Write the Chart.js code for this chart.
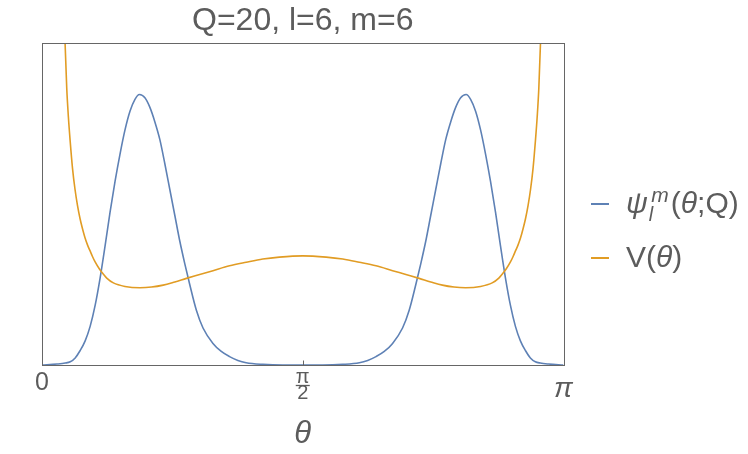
<!DOCTYPE html>
<html><head><meta charset="utf-8">
<script src="https://cdn.jsdelivr.net/npm/chart.js@4.4.1/dist/chart.umd.min.js"></script>
<style>
html,body{margin:0;padding:0;background:#fff;}
#wrap{position:relative;width:748px;height:454px;overflow:hidden;}
canvas{position:absolute;left:0;top:0;}
.leg{position:absolute;left:626px;height:36px;line-height:36px;font-family:"Liberation Sans",Arial,sans-serif;font-size:30px;color:#5c5c5c;white-space:nowrap;}
.sw{position:absolute;left:591px;width:18px;height:1.6px;}
.it{font-style:italic;}
.sb{position:relative;top:8px;font-size:20px;font-style:italic;margin-left:1px;margin-right:-2px;}
.sp{position:relative;top:-11px;font-size:21px;font-style:italic;margin-right:2px;}
</style></head>
<body><div id="wrap"><canvas id="c" width="748" height="454"></canvas>
<div class="sw" style="top:203px;background:#5E81B5"></div>
<div class="leg" style="top:185px"><span class="it">ψ</span><span class="sb">l</span><span class="sp">m</span>(<span class="it">θ</span>;Q)</div>
<div class="sw" style="top:257px;background:#E19C24"></div>
<div class="leg" style="top:239px">V(<span class="it">θ</span>)</div>
</div>
<script>
// ψ_l^m(θ;Q)
const psiTheta = [0,0.09,0.14,0.17,0.20,0.23,0.26,0.29,0.32,0.35,0.38,0.41,0.44,0.47,0.50,0.53,0.56,0.587,0.62,0.65,0.68,0.71,0.74,0.77,0.80,0.83,0.86,0.89,0.93,0.97,1.03,1.08,1.13,1.18,1.23,1.33,1.45,1.571,
  1.692,1.812,1.912,1.962,2.012,2.062,2.112,2.172,2.212,2.252,2.282,2.312,2.342,2.372,2.402,2.432,2.462,2.492,2.522,2.555,2.582,2.612,2.642,2.672,2.702,2.732,2.762,2.792,2.822,2.852,2.882,2.912,2.942,2.972,3.002,3.052,3.1416];
const psiValues = [0,0.3,0.6,1.0,2.2,4.5,7.5,12,18.5,27,37,47.5,57,65.5,73,78.8,82.5,84,83,80,75.5,70,62.5,54.5,46.5,38.5,31.5,25,17,11.5,6.7,4.2,2.6,1.4,0.7,0.2,0,0,
  0,0.2,0.7,1.4,2.6,4.2,6.7,11.5,17,25,31.5,38.5,46.5,54.5,62.5,70,75.5,80,83,84,82.5,78.8,73,65.5,57,47.5,37,27,18.5,12,7.5,4.5,2.2,1.0,0.6,0.3,0];
// V(θ)
const vTheta = [0.10,0.13,0.139,0.149,0.159,0.169,0.184,0.199,0.214,0.229,0.244,0.259,0.274,0.289,0.304,0.32,0.346,0.37,0.39,0.43,0.50,0.59,0.66,0.73,0.80,0.87,0.95,1.03,1.13,1.23,1.33,1.43,1.571,
  1.712,1.812,1.912,2.012,2.112,2.192,2.272,2.342,2.412,2.482,2.552,2.642,2.712,2.752,2.772,2.796,2.822,2.838,2.853,2.868,2.883,2.898,2.913,2.928,2.943,2.958,2.973,2.983,2.993,3.003,3.012,3.042];
const vValues = [200,116,100,86,77,70,61,54.5,49.5,45.5,42.3,39.5,37.3,35.5,33.7,32,29.8,28.2,27,25.5,24.4,24.0,24.2,24.8,25.8,26.9,28.1,29.3,30.8,31.9,32.9,33.5,33.9,
  33.5,32.9,31.9,30.8,29.3,28.1,26.9,25.8,24.8,24.2,24.0,24.4,25.5,27,28.2,29.8,32,33.7,35.5,37.3,39.5,42.3,45.5,49.5,54.5,61,70,77,86,100,116,200];
const tickValues = [0, Math.PI/2, Math.PI];
const tickLabels = ['0', ['π','2'], 'π'];
const seriesNames = ['ψ_l^m(θ;Q)', 'V(θ)'];
const titleText = 'Q=20, l=6, m=6';
const axisTitle = 'θ';

const FONT = '"Liberation Sans", Arial, sans-serif';
const TXT = '#5c5c5c';
const FRAME = '#666666';

const framePlugin = {
  id: 'frame',
  afterDraw(chart) {
    const {ctx, chartArea: a, scales: {x}} = chart;
    ctx.save();
    ctx.strokeStyle = FRAME;
    ctx.lineWidth = 1;
    ctx.strokeRect(Math.round(a.left) + 0.5, Math.round(a.top) + 0.5, Math.round(a.right - a.left), Math.round(a.bottom - a.top));
    // inward tick marks
    tickValues.forEach(v => {
      const px = Math.round(x.getPixelForValue(v)) + 0.5;
      ctx.beginPath();
      ctx.moveTo(px, a.bottom);
      ctx.lineTo(px, a.bottom - 4.5);
      ctx.stroke();
    });
    // fraction bar for π/2
    const cx = x.getPixelForValue(Math.PI/2);
    ctx.strokeStyle = TXT;
    ctx.lineWidth = 1.3;
    ctx.beginPath();
    ctx.moveTo(cx - 7, 385.5);
    ctx.lineTo(cx + 7, 385.5);
    ctx.stroke();
    ctx.restore();
  }
};

new Chart(document.getElementById('c'), {
  type: 'line',
  data: {
    datasets: [
      {label: seriesNames[0], data: psiTheta.map((t,i)=>({x:t,y:psiValues[i]})), borderColor:'#5E81B5', borderWidth:1.6, pointRadius:0, cubicInterpolationMode:'monotone', order:1},
      {label: seriesNames[1], data: vTheta.map((t,i)=>({x:t,y:vValues[i]})), borderColor:'#E19C24', borderWidth:1.6, pointRadius:0, cubicInterpolationMode:'monotone', order:0}
    ]
  },
  options: {
    responsive: false,
    animation: false,
    devicePixelRatio: 1,
    layout: {padding: {left: 42, right: 184.5, top: 0, bottom: 0}},
    plugins: {
      legend: {display: false},
      tooltip: {enabled: false},
      title: {display: true, text: titleText, color: TXT, font: {family: FONT, size: 32, weight: 'normal', lineHeight: 1.2}, padding: {top: 2.3, bottom: 2.3}}
    },
    scales: {
      x: {
        type: 'linear', min: 0, max: Math.PI,
        afterBuildTicks: s => { s.ticks = tickValues.map(v => ({value: v})); },
        afterFit: s => { s.height = 89; },
        grid: {display: false, drawTicks: false},
        border: {display: false},
        ticks: {
          autoSkip: false, maxRotation: 0, padding: 4.3, color: TXT,
          callback: (v, i) => tickLabels[i],
          font: (ctx) => ctx.index === 1 ? {family: FONT, size: 20, lineHeight: 0.8}
                        : ctx.index === 2 ? {family: FONT, size: 28, style: 'italic', lineHeight: 1.4}
                        : {family: FONT, size: 25, lineHeight: 1.1}
        },
        title: {display: true, text: axisTitle, color: TXT, font: {family: FONT, size: 31, style: 'italic', lineHeight: 1.2}, padding: {top: 0, bottom: 1}}
      },
      y: {display: false, min: 0, max: 100}
    }
  },
  plugins: [framePlugin]
});
</script>
</body></html>
